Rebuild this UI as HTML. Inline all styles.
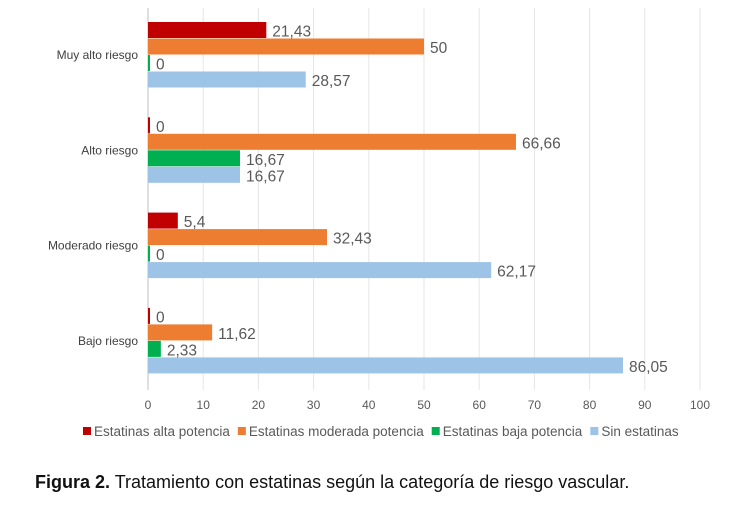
<!DOCTYPE html>
<html><head><meta charset="utf-8">
<style>
body{margin:0;background:#fff;width:750px;height:506px;overflow:hidden;font-family:"Liberation Sans",sans-serif}
svg text{font-family:"Liberation Sans",sans-serif}
</style></head><body>
<svg id="chart" width="750" height="450" style="position:absolute;left:0;top:0"></svg>
<div style="position:absolute;left:35px;top:472px;font-size:18px;color:#111"><b>Figura 2.</b> Tratamiento con estatinas según la categoría de riesgo vascular.</div>
<script>
const categories=["Muy alto riesgo","Alto riesgo","Moderado riesgo","Bajo riesgo"];
const seriesNames=["Estatinas alta potencia","Estatinas moderada potencia","Estatinas baja potencia","Sin estatinas"];
const alta=[21.43,0,5.4,0];
const moderada=[50,66.66,32.43,11.62];
const baja=[0,16.67,0,2.33];
const sin=[28.57,16.67,62.17,86.05];
const labelsAlta=["21,43","0","5,4","0"];
const labelsModerada=["50","66,66","32,43","11,62"];
const labelsBaja=["0","16,67","0","2,33"];
const labelsSin=["28,57","16,67","62,17","86,05"];
const ticks=[0,10,20,30,40,50,60,70,80,90,100];
const colors=["#c00000","#ed7d31","#00b050","#9dc3e6"];
const svg=document.getElementById('chart');
const NS="http://www.w3.org/2000/svg";
const x=v=>148+v*5.52;
const groupY=i=>22+i*95.3;
const barH=16.5;
function mk(t,a){const e=document.createElementNS(NS,t);for(const k in a)e.setAttribute(k,a[k]);svg.appendChild(e);return e;}
ticks.forEach(t=>{
 const g=mk('line',{x1:x(t),x2:x(t),y1:8,y2:390,stroke:t===0?'#bfbfbf':'#e6e6e6','stroke-width':1});
 
 
 const l=mk('text',{x:x(t),y:409,'text-anchor':'middle','font-size':12,fill:'#595959'});
 l.textContent=t;
 
 
});
const data=[alta,moderada,baja,sin];
const labels=[labelsAlta,labelsModerada,labelsBaja,labelsSin];
categories.forEach((c,i)=>{
 const cl=mk('text',{x:138,y:groupY(i)+2*barH+4,'text-anchor':'end','font-size':12,fill:'#404040'});
 cl.textContent=c;
 
 
 data.forEach((s,j)=>{
  const y=groupY(i)+j*barH;
  const w=Math.max(x(s[i])-x(0),2);
  const r=mk('rect',{x:x(0),y:y,width:w,height:barH-0.5,fill:colors[j]});
  
  
  const t=mk('text',{x:x(0)+w+6,y:y+barH-2,'font-size':15.5,fill:'#595959'});
  t.textContent=labels[j][i];
  
  
 });
});
let lx=83;
seriesNames.forEach((n,j)=>{
 const r=mk('rect',{x:lx,y:427,width:8,height:8,fill:colors[j]});
 
 
 const t=mk('text',{x:lx+11,y:436,'font-size':13.5,fill:'#595959'});
 t.textContent=n;
 
 
 lx+=11+t.getComputedTextLength()+8;
});
</script>
</body></html>
